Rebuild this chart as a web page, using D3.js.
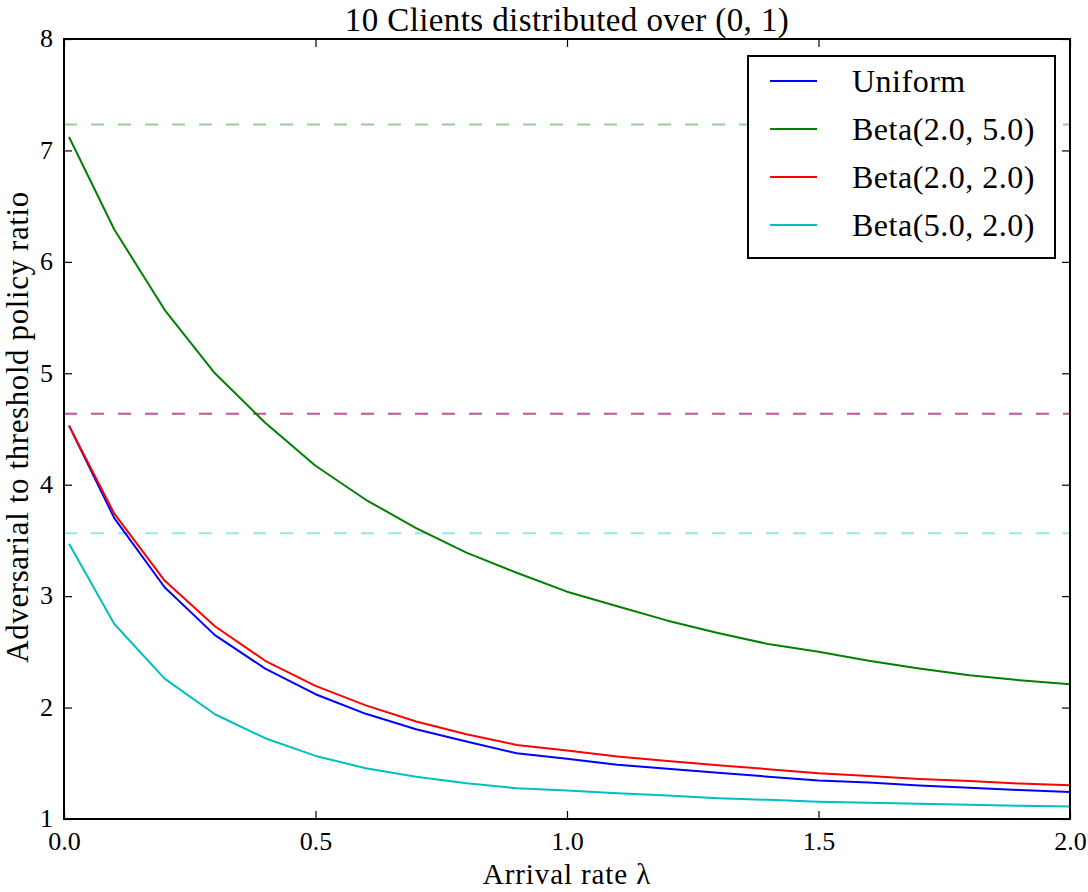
<!DOCTYPE html>
<html>
<head>
<meta charset="utf-8">
<script src="https://cdn.jsdelivr.net/npm/d3@7"></script>
<style>
  body { margin: 0; background: #fff; }
  svg { display: block; }
  text { font-family: "Liberation Serif", "DejaVu Serif", serif; fill: #000; }
</style>
</head>
<body>
<svg id="chart" width="1088" height="892"></svg>
<script>
// arrival rates (x values)
const lambdas = [0.01, 0.1, 0.2, 0.3, 0.4, 0.5, 0.6, 0.7, 0.8, 0.9, 1.0,
                 1.1, 1.2, 1.3, 1.4, 1.5, 1.6, 1.7, 1.8, 1.9, 2.0];

// ratio per distribution
const uniformRatio = [4.53, 3.70, 3.08, 2.65, 2.35, 2.12, 1.944, 1.806, 1.695, 1.59, 1.54,
                      1.486, 1.45, 1.414, 1.38, 1.345, 1.327, 1.30, 1.28, 1.26, 1.243];
const beta25Ratio = [7.12, 6.29, 5.57, 5.00, 4.556, 4.17, 3.865, 3.61, 3.39, 3.21, 3.04,
                     2.91, 2.78, 2.67, 2.57, 2.50, 2.42, 2.35, 2.29, 2.245, 2.21];
const beta22Ratio = [4.53, 3.74, 3.14, 2.73, 2.42, 2.195, 2.02, 1.875, 1.76, 1.665, 1.614,
                     1.56, 1.52, 1.483, 1.447, 1.41, 1.387, 1.36, 1.34, 1.318, 1.304];
const beta52Ratio = [3.47, 2.75, 2.26, 1.94, 1.725, 1.566, 1.456, 1.38, 1.32, 1.276, 1.255,
                     1.23, 1.21, 1.187, 1.172, 1.154, 1.145, 1.136, 1.127, 1.118, 1.112];

// limits drawn as dashed horizontal lines
const limitValues = [4.636, 7.233, 4.636, 3.565];

const seriesNames = ["Uniform", "Beta(2.0, 5.0)", "Beta(2.0, 2.0)", "Beta(5.0, 2.0)"];
const seriesColors = ["#0000ff", "#008000", "#ff0000", "#00bfbf"];
const seriesValues = [uniformRatio, beta25Ratio, beta22Ratio, beta52Ratio];

const xTicks = [0.0, 0.5, 1.0, 1.5, 2.0];
const yTicks = [1, 2, 3, 4, 5, 6, 7, 8];

const svg = d3.select("#chart");
const margin = {top: 39, right: 18, bottom: 73, left: 64};
const width = +svg.attr("width") - margin.left - margin.right;
const height = +svg.attr("height") - margin.top - margin.bottom;
const g = svg.append("g").attr("transform", "translate(" + margin.left + "," + margin.top + ")");

const x = d3.scaleLinear().domain([0, 2]).range([0, width]);
const y = d3.scaleLinear().domain([1, 8]).range([height, 0]);

// dashed limit lines (semi-transparent, overlapping ones blend)
g.selectAll(".limit")
    .data(limitValues)
    .join("line")
    .attr("class", "limit")
    .attr("x1", 0)
    .attr("x2", width)
    .attr("y1", d => y(d))
    .attr("y2", d => y(d))
    .attr("stroke", (d, i) => seriesColors[i])
    .attr("stroke-opacity", 0.4)
    .attr("stroke-width", 2)
    .attr("stroke-dasharray", "13,14");

const line = d3.line()
    .x((d, i) => x(lambdas[i]))
    .y(d => y(d));

seriesValues.forEach((vals, i) => {
    g.append("path")
        .datum(vals)
        .attr("fill", "none")
        .attr("stroke", seriesColors[i])
        .attr("stroke-width", 2)
        .attr("stroke-linejoin", "round")
        .attr("d", line);
});

// axes with inward ticks on all four sides
const fmt = d3.format(".1f");
const xAxis = g.append("g")
    .attr("transform", "translate(0," + height + ")")
    .call(d3.axisBottom(x).tickValues(xTicks).tickSize(-8).tickPadding(11).tickFormat(fmt));
const xTop = g.append("g")
    .call(d3.axisTop(x).tickValues(xTicks).tickSize(-8).tickFormat(""));
const yAxis = g.append("g")
    .call(d3.axisLeft(y).tickValues(yTicks).tickSize(-8).tickPadding(11).tickFormat(d3.format("d")));
const yRight = g.append("g")
    .attr("transform", "translate(" + width + ",0)")
    .call(d3.axisRight(y).tickValues(yTicks).tickSize(-8).tickFormat(""));

[xAxis, xTop, yAxis, yRight].forEach(a => {
    a.select(".domain").remove();
    a.selectAll(".tick line").attr("stroke", "#000").attr("stroke-width", 1.2);
    a.selectAll("text").attr("font-size", 26).attr("font-family", null);
});
xAxis.selectAll("text").attr("dy", "0.75em");
yAxis.selectAll("text").attr("dy", "0.3em");

g.append("rect")
    .attr("width", width)
    .attr("height", height)
    .attr("fill", "none")
    .attr("stroke", "#000")
    .attr("stroke-width", 2);

// title and labels
svg.append("text")
    .attr("x", margin.left + width / 2)
    .attr("y", 31)
    .attr("text-anchor", "middle")
    .attr("font-size", 33)
    .attr("letter-spacing", 0.4)
    .text("10 Clients distributed over (0, 1)");

svg.append("text")
    .attr("x", margin.left + width / 2)
    .attr("y", 884)
    .attr("text-anchor", "middle")
    .attr("font-size", 29)
    .attr("letter-spacing", 0.9)
    .text("Arrival rate λ");

svg.append("text")
    .attr("transform", "translate(28," + (margin.top + height / 2 - 2) + ") rotate(-90)")
    .attr("text-anchor", "middle")
    .attr("font-size", 31)
    .attr("letter-spacing", 0.6)
    .text("Adversarial to threshold policy ratio");

// legend
const legend = g.append("g").attr("transform", "translate(" + (width - 322) + ",17)");
legend.append("rect")
    .attr("width", 307)
    .attr("height", 202)
    .attr("fill", "#fff")
    .attr("stroke", "#000")
    .attr("stroke-width", 2);

const items = legend.selectAll(".legend-item")
    .data(seriesNames)
    .join("g")
    .attr("class", "legend-item")
    .attr("transform", (d, i) => "translate(0," + (25 + i * 48) + ")");

items.append("line")
    .attr("x1", 22)
    .attr("x2", 69)
    .attr("stroke", (d, i) => seriesColors[i])
    .attr("stroke-width", 2);

items.append("text")
    .attr("x", 104)
    .attr("dy", "0.35em")
    .attr("font-size", 32)
    .attr("letter-spacing", 0.5)
    .text(d => d);
</script>
</body>
</html>
